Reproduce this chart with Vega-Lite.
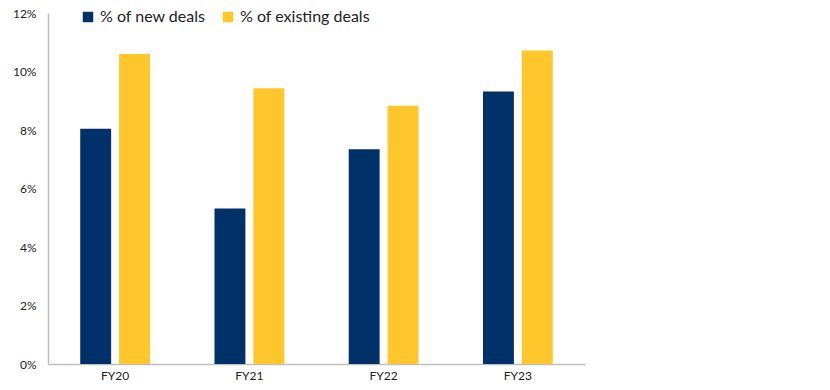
{
  "$schema": "https://vega.github.io/schema/vega-lite/v6.json",
  "autosize": "none",
  "width": 537,
  "height": 351,
  "padding": {"left": 48, "top": 13, "right": 245, "bottom": 26},
  "background": "white",
  "data": {
    "values": [
      {"year": "FY20", "series": "% of new deals", "value": 8.04},
      {"year": "FY20", "series": "% of existing deals", "value": 10.6},
      {"year": "FY21", "series": "% of new deals", "value": 5.32},
      {"year": "FY21", "series": "% of existing deals", "value": 9.43},
      {"year": "FY22", "series": "% of new deals", "value": 7.34},
      {"year": "FY22", "series": "% of existing deals", "value": 8.83},
      {"year": "FY23", "series": "% of new deals", "value": 9.32},
      {"year": "FY23", "series": "% of existing deals", "value": 10.72}
    ]
  },
  "mark": {"type": "bar"},
  "encoding": {
    "x": {
      "field": "year", "type": "nominal", "sort": null,
      "scale": {"paddingInner": 0.48, "paddingOuter": 0.24},
      "axis": {"title": null, "labelAngle": 0, "ticks": false, "domainColor": "#bfbfbf", "domainWidth": 1.5, "labelFont": "Lato", "labelFontSize": 12, "labelColor": "#222222", "labelPadding": 6}
    },
    "xOffset": {
      "field": "series", "type": "nominal",
      "sort": ["% of new deals", "% of existing deals"],
      "scale": {"paddingInner": 0.205, "paddingOuter": 0}
    },
    "y": {
      "field": "value", "type": "quantitative",
      "scale": {"domain": [0, 12], "nice": false},
      "axis": {"title": null, "values": [0, 2, 4, 6, 8, 10, 12], "labelExpr": "datum.value + '%'", "grid": false, "ticks": false, "domainColor": "#bfbfbf", "domainWidth": 1.5, "labelFont": "Lato", "labelFontSize": 12, "labelColor": "#222222", "labelPadding": 12}
    },
    "color": {
      "field": "series", "type": "nominal",
      "sort": ["% of new deals", "% of existing deals"],
      "scale": {"domain": ["% of new deals", "% of existing deals"], "range": ["#003168", "#FFC72C"]},
      "legend": {
        "title": null, "orient": "none", "direction": "horizontal",
        "legendX": 32, "legendY": -4,
        "symbolType": "square", "symbolSize": 110, "symbolStrokeWidth": 0,
        "labelFont": "Lato", "labelFontSize": 16, "labelColor": "#222222",
        "columnPadding": 14, "labelOffset": 4
      }
    }
  },
  "config": {"view": {"stroke": null}}
}
